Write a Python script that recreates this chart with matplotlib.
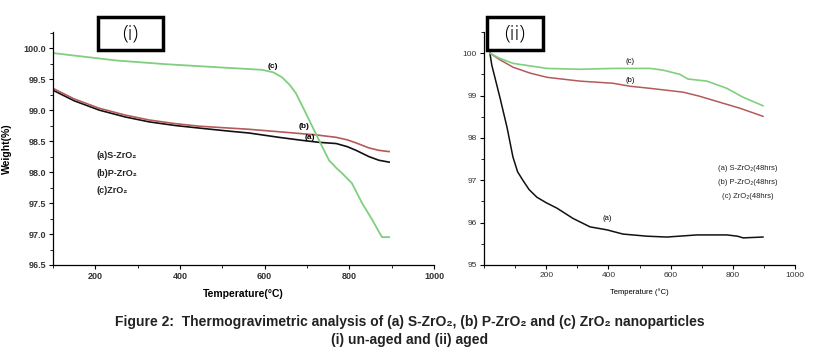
import matplotlib
matplotlib.use("Agg")
import matplotlib.pyplot as plt
from matplotlib.patches import Rectangle
from matplotlib.ticker import MultipleLocator

plt.rcParams['font.family'] = ['Liberation Sans', 'DejaVu Sans']

# (i) un-aged
t_a1 = [100, 150, 209, 270, 327, 390, 445, 516, 563, 634, 690, 728, 769, 795, 816, 846, 870, 894]
w_a1 = [99.32, 99.15, 99.00, 98.89, 98.81, 98.75, 98.71, 98.66, 98.63, 98.56, 98.51, 98.48, 98.46,
        98.41, 98.35, 98.25, 98.19, 98.16]
t_b1 = [100, 150, 209, 270, 327, 390, 445, 516, 563, 634, 721, 769, 795, 816, 846, 870, 894]
w_b1 = [99.35, 99.18, 99.03, 98.92, 98.84, 98.78, 98.74, 98.71, 98.69, 98.65, 98.60, 98.56, 98.52,
        98.47, 98.39, 98.35, 98.33]
t_c1 = [100, 250, 368, 516, 594, 620, 641, 660, 674, 690, 705, 728, 752, 770, 783, 806, 830, 854,
        877, 894]
w_c1 = [99.92, 99.80, 99.74, 99.68, 99.65, 99.61, 99.53, 99.40, 99.27, 99.05, 98.84, 98.52, 98.19,
        98.06, 97.98, 97.82, 97.50, 97.23, 96.95, 96.95]

# (ii) aged 48 hrs
t_a2 = [19, 25, 51, 74, 93, 108, 125, 145, 170, 200, 235, 286, 341, 395, 447, 524, 588, 685, 781,
        815, 833, 897]
w_a2 = [100.0, 99.72, 98.96, 98.25, 97.55, 97.20, 97.00, 96.78, 96.60, 96.47, 96.34, 96.10, 95.90,
        95.83, 95.73, 95.68, 95.66, 95.71, 95.71, 95.68, 95.64, 95.66]
t_b2 = [19, 50, 93, 148, 203, 309, 415, 469, 534, 640, 690, 736, 823, 897]
w_b2 = [100.0, 99.85, 99.67, 99.53, 99.43, 99.34, 99.29, 99.22, 99.17, 99.08, 98.99, 98.89, 98.70,
        98.51]
t_c2 = [19, 50, 93, 203, 309, 415, 534, 576, 630, 656, 717, 781, 833, 897]
w_c2 = [100.0, 99.88, 99.76, 99.64, 99.62, 99.64, 99.64, 99.60, 99.50, 99.39, 99.34, 99.17, 98.96,
        98.76]

legend1 = ["(a)S-ZrO₂", "(b)P-ZrO₂", "(c)ZrO₂"]
legend2 = ["(a) S-ZrO₂(48hrs)", "(b) P-ZrO₂(48hrs)", "(c) ZrO₂(48hrs)"]

green = "#7fcf7f"
red = "#b35a5a"
black = "#111111"

W, H = 813, 358
fig = plt.figure(figsize=(W / 100, H / 100), dpi=100)


def px_axes(x0, x1, ytop, ybot):
    return fig.add_axes([x0 / W, 1 - ybot / H, (x1 - x0) / W, (ybot - ytop) / H])


def style(ax):
    for s in ["top", "right"]:
        ax.spines[s].set_visible(False)
    for s in ["left", "bottom"]:
        ax.spines[s].set_linewidth(0.9)
    ax.tick_params(direction="out", length=3, width=0.8, pad=2)
    ax.tick_params(which="minor", direction="out", length=2, width=0.6)


# ---- panel (i)
ax1 = px_axes(53, 434, 32, 265)
ax1.plot(t_a1, w_a1, color=black, lw=1.2)
ax1.plot(t_b1, w_b1, color=red, lw=1.2)
ax1.plot(t_c1, w_c1, color=green, lw=1.3)
ax1.set_xlim(100, 1000)
ax1.set_ylim(96.5, 100.26)
ax1.set_xticks([200, 400, 600, 800, 1000])
ax1.set_yticks([96.5, 97.0, 97.5, 98.0, 98.5, 99.0, 99.5, 100.0])
ax1.set_yticklabels(["96.5", "97.0", "97.5", "98.0", "98.5", "99.0", "99.5", "100.0"])
ax1.xaxis.set_minor_locator(MultipleLocator(100))
ax1.yaxis.set_minor_locator(MultipleLocator(0.25))
style(ax1)
for lab in ax1.get_xticklabels() + ax1.get_yticklabels():
    lab.set_fontsize(6.5)
    lab.set_fontweight("bold")
    lab.set_color("#333333")
ax1.set_xlabel("Temperature(°C)", fontsize=7.5, fontweight="bold", labelpad=6)
ax1.set_ylabel("Weight(%)", fontsize=7.5, fontweight="bold", labelpad=8)
ax1.text(620, 99.71, "(c)", fontsize=6, fontweight="bold", ha="center", va="center")
ax1.text(693, 98.74, "(b)", fontsize=6, fontweight="bold", ha="center", va="center")
ax1.text(707, 98.56, "(a)", fontsize=6, fontweight="bold", ha="center", va="center")
for i, s in enumerate(legend1):
    ax1.text(0.115, 0.468 - i * 0.075, s, transform=ax1.transAxes, fontsize=6.5,
             fontweight="bold", ha="left", va="center", color="#222222")

# ---- panel (ii)
ax2 = px_axes(484, 795, 32, 265)
ax2.plot(t_a2, w_a2, color=black, lw=1.1)
ax2.plot(t_b2, w_b2, color=red, lw=1.1)
ax2.plot(t_c2, w_c2, color=green, lw=1.2)
ax2.set_xlim(0, 1000)
ax2.set_ylim(95, 100.5)
ax2.set_xticks([200, 400, 600, 800, 1000])
ax2.set_yticks([95, 96, 97, 98, 99, 100])
ax2.xaxis.set_minor_locator(MultipleLocator(100))
ax2.yaxis.set_minor_locator(MultipleLocator(0.5))
style(ax2)
for lab in ax2.get_xticklabels() + ax2.get_yticklabels():
    lab.set_fontsize(6)
    lab.set_color("#333333")
ax2.set_xlabel("Temperature (°C)", fontsize=5.5, labelpad=7)
ax2.text(469, 99.81, "(c)", fontsize=5.5, ha="center", va="center")
ax2.text(469, 99.36, "(b)", fontsize=5.5, ha="center", va="center")
ax2.text(395, 96.1, "(a)", fontsize=5.5, ha="center", va="center")
for i, s in enumerate(legend2):
    ax2.text(0.849, 0.416 - i * 0.062, s, transform=ax2.transAxes, fontsize=5.5,
             ha="center", va="center", color="#222222")

# ---- panel tags
for x0, x1, tag in [(98, 163, "(i)"), (487, 543, "(ii)")]:
    fig.patches.append(Rectangle((x0 / W, 1 - 50 / H), (x1 - x0) / W, 33 / H,
                                 transform=fig.transFigure, facecolor="white",
                                 edgecolor="black", lw=2.5, zorder=5))
    fig.text((x0 + x1) / 2 / W, 1 - 34 / H, tag, fontsize=15, ha="center",
             va="center", zorder=6, family=["Open Sans", "DejaVu Sans"], fontweight="light")

# ---- caption
fig.text(410 / W, 1 - 322 / H,
         "Figure 2:  Thermogravimetric analysis of (a) S-ZrO₂, (b) P-ZrO₂ and (c) ZrO₂ nanoparticles",
         fontsize=10, fontweight="bold", ha="center", va="center", color="#222222")
fig.text(410 / W, 1 - 340 / H, "(i) un-aged and (ii) aged",
         fontsize=10, fontweight="bold", ha="center", va="center", color="#222222")

fig.savefig("out.png", dpi=100)
